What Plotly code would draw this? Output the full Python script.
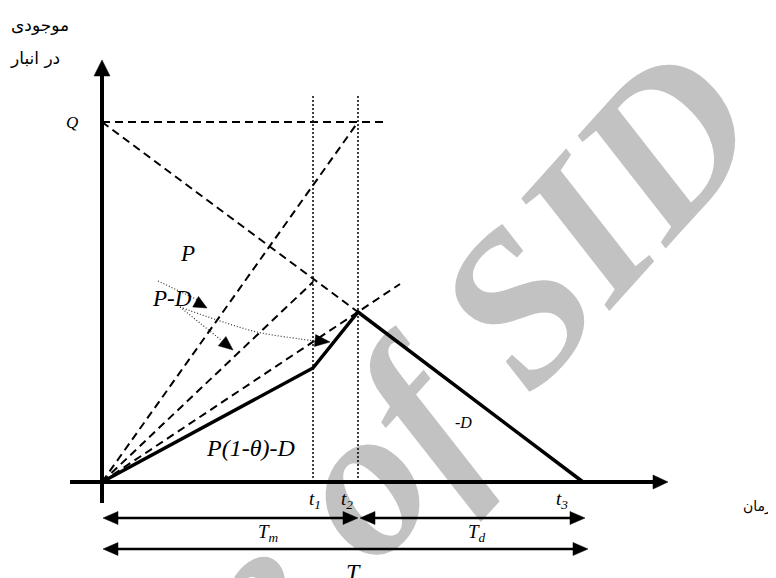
import numpy as np
import plotly.graph_objects as go

# ---- data (units: pixels from the origin) ----
t_labels = ["t1", "t2", "t3"]
t_values = [211, 256, 481]          # t1, t2, t3 on the time axis
Q_level = 360                       # maximum inventory Q
inv_at_t1 = 114                     # inventory at t1 (solid path)
inv_peak = 170                      # inventory at t2 (peak)
pd_line_end = [211, 200]            # end of the P-D dashed line
ext_line_end = [298, 198]           # end of dashed line through the peak
q_dash_end_x = 286                  # end of horizontal dashed line at Q
vline_top = 386                     # top of dotted vertical lines
yaxis_span = [-21, 422]
xaxis_span = [-32, 566]
tm_arrow = [1, 256]
td_arrow = [258, 483]
t_arrow = [1, 486]
arrow_rows = [-36, -67]
curve3_x = [78, 115, 155, 198, 228]
curve3_y = [175, 162, 150, 143, 140]

t1, t2, t3 = t_values

fig = go.Figure()

def add_line(x, y, width=2, dash="solid", color="black", shape="linear"):
    fig.add_trace(go.Scatter(x=x, y=y, mode="lines",
                             line=dict(color=color, width=width, dash=dash, shape=shape),
                             hoverinfo="skip", showlegend=False))

def arrowhead(tip, frm, length=14, half=6.5, color="black"):
    tip = np.array(tip, float); frm = np.array(frm, float)
    d = tip - frm; d /= np.linalg.norm(d)
    n = np.array([-d[1], d[0]])
    base = tip - length * d
    p1 = base + half * n; p2 = base - half * n
    fig.add_trace(go.Scatter(x=[tip[0], p1[0], p2[0], tip[0]],
                             y=[tip[1], p1[1], p2[1], tip[1]],
                             mode="lines", fill="toself", fillcolor=color,
                             line=dict(color=color, width=0.5),
                             hoverinfo="skip", showlegend=False))

DASH = "8px,5px"
# dashed construction lines
add_line([0, q_dash_end_x], [Q_level, Q_level], dash=DASH)
add_line([0, t2], [Q_level, inv_peak], dash=DASH)
add_line([0, t2], [0, Q_level], dash=DASH)
add_line([0, pd_line_end[0]], [0, pd_line_end[1]], dash=DASH)
add_line([0, ext_line_end[0]], [0, ext_line_end[1]], dash=DASH)
# dotted verticals
for tv in (t1, t2):
    add_line([tv, tv], [0, vline_top], width=1.5, dash="2px,2px")

# inventory path
add_line([0, t1, t2, t3], [0, inv_at_t1, inv_peak, 0], width=3.5)

# axes
add_line([0, 0], [yaxis_span[0], yaxis_span[1] - 14], width=4)
arrowhead([0, yaxis_span[1]], [0, 0], length=16, half=8)
add_line([xaxis_span[0], xaxis_span[1] - 13], [0, 0], width=4)
arrowhead([xaxis_span[1], 0], [0, 0], length=15, half=7)

# double arrows
for (a, b), yy in ((tm_arrow, arrow_rows[0]), (td_arrow, arrow_rows[0]), (t_arrow, arrow_rows[1])):
    add_line([a + 10, b - 10], [yy, yy], width=2.5)
    arrowhead([a, yy], [b, yy], length=15, half=6.5)
    arrowhead([b, yy], [a, yy], length=15, half=6.5)

# dotted annotation arrows
DOT = "1px,2px"
add_line([56, 98], [201, 181], width=1.2, dash=DOT, color="#333")
arrowhead([105, 174], [56, 201], length=13, half=6)
add_line([78, 124], [175, 138], width=1.2, dash=DOT, color="#333")
arrowhead([131, 132], [78, 175], length=14, half=6)
add_line(curve3_x[:-1] + [curve3_x[-1] - 12], curve3_y[:-1] + [curve3_y[-1] + 0.5],
         width=1.2, dash=DOT, color="#333", shape="spline")
arrowhead([curve3_x[-1], curve3_y[-1]], [curve3_x[-2], curve3_y[-2]], length=15, half=6)

# watermark (below traces)
fig.add_shape(type="line", x0=100, y0=-138, x1=200, y1=-28, layer="below",
              line=dict(color="rgba(0,0,0,0)", width=1),
              label=dict(text="<b><i>Archive of SID</i></b>", textangle=-48,
                         textposition="middle", xanchor="center", yanchor="middle",
                         font=dict(family="Liberation Serif", size=215, color="#c2c2c2")))

SERIF = "Liberation Serif"
def txt(x, y, s, size=18, family=SERIF, color="black"):
    fig.add_annotation(x=x, y=y, text=s, showarrow=False, xanchor="center", yanchor="middle",
                       font=dict(family=family, size=size, color=color))

txt(-30, 360, "<i>Q</i>", 17)
txt(85, 229, "<i>P</i>", 23)
txt(70, 184, "<i>P-D</i>", 23)
txt(148, 34, "<i>P(1-θ)-D</i>", 24)
txt(361, 60, "<i>-D</i>", 16)
for lab, xx in zip(t_labels, [213, 245, 460]):
    txt(xx, -18, "<i>t<sub>%s</sub></i>" % lab[1], 19)
txt(166, -51, "<i>T<sub>m</sub></i>", 19)
txt(375, -51, "<i>T<sub>d</sub></i>", 19)
txt(251, -90, "<i>T</i>", 24)
txt(655, -24, "زمان", 14, "DejaVu Sans")
txt(-62, 457, "موجودی", 17, "DejaVu Sans")
txt(-67, 424, "در انبار", 17, "DejaVu Sans")

# page body has an 8px margin: the figure is sized and ranged to fill the window from (8, 8)
fig.update_layout(width=768, height=570, margin=dict(l=0, r=0, t=0, b=0),
                  paper_bgcolor="white", plot_bgcolor="white", hovermode=False,
                  xaxis=dict(range=[-94, 674], visible=False, fixedrange=True),
                  yaxis=dict(range=[-96, 474], visible=False, fixedrange=True))
fig.write_html("out.html")
